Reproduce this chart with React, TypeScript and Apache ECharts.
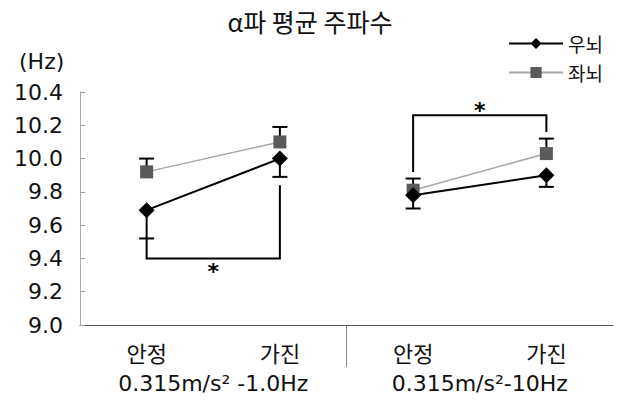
import React, { useEffect, useRef } from "react";
import * as echarts from "echarts";

const categories = ["안정", "가진", "안정", "가진"];
const groupLabels = ["0.315m/s² -1.0Hz", "0.315m/s²-10Hz"];
const rightName = "우뇌";
const leftName = "좌뇌";
const rightValues = [9.69, 10.0, 9.78, 9.9];
const leftValues = [9.92, 10.1, 9.81, 10.03];
const rightErrLow = [9.52, 9.89, 9.7, 9.83];
const leftErrHigh = [10.0, 10.19, 9.88, 10.12];
const yMin = 9.0;
const yMax = 10.4;
const yStep = 0.2;
// [catStart, startValue, barValue, catEnd, endValue, starValue]
const brackets = [
  [0, 9.52, 9.4, 1, 9.84, 9.35],
  [2, 9.92, 10.26, 3, 10.16, 10.32],
];

const LATIN = "DejaVu Sans";
const KR = "Noto Sans CJK KR";

export default function App() {
  const ref = useRef<HTMLDivElement>(null);
  useEffect(() => {
    if (!ref.current) return;
    const chart = echarts.init(ref.current, null, { renderer: "svg" });
    const gridLeft = 80;
    const gridRight = 7;
    const gridTop = 92;
    const gridBottom = 88;
    const W = 620;
    const H = 413;
    const midX = gridLeft + (W - gridLeft - gridRight) / 2;
    const axisY = H - gridBottom;

    const seg = (arr: number[], g: number) =>
      arr.map((v, i) => (Math.floor(i / 2) === g ? v : "-"));

    const errRender = (params: any, api: any) => {
      const x = api.value(0);
      const v = api.value(1);
      const e = api.value(2);
      const p = api.coord([x, v]);
      const q = api.coord([x, e]);
      return {
        type: "group",
        children: [
          { type: "line", shape: { x1: p[0], y1: p[1], x2: q[0], y2: q[1] }, style: { stroke: "#000", lineWidth: 2 } },
          { type: "line", shape: { x1: q[0] - 7.5, y1: q[1], x2: q[0] + 7.5, y2: q[1] }, style: { stroke: "#000", lineWidth: 2 } },
        ],
      };
    };

    const bracketRender = (params: any, api: any) => {
      const c1 = api.value(0);
      const ys = api.value(1);
      const yb = api.value(2);
      const c2 = api.value(3);
      const ye = api.value(4);
      const st = api.value(5);
      const a = api.coord([c1, ys]);
      const b = api.coord([c1, yb]);
      const c = api.coord([c2, yb]);
      const d = api.coord([c2, ye]);
      const s = api.coord([c1, st]);
      return {
        type: "group",
        children: [
          {
            type: "polyline",
            shape: { points: [a, b, c, d] },
            style: { stroke: "#000", lineWidth: 2, fill: "none" },
          },
          {
            type: "text",
            x: (b[0] + c[0]) / 2,
            y: s[1] + 5,
            style: {
              text: "*",
              fontSize: 22,
              fontFamily: LATIN,
              fontWeight: "bold",
              fill: "#000",
              align: "center",
              verticalAlign: "middle",
            },
          },
        ],
      };
    };

    const lineSeries = (name: string, values: number[], g: number, isRight: boolean) => ({
      name,
      type: "line",
      data: seg(values, g),
      symbol: isRight ? "diamond" : "rect",
      symbolSize: isRight ? 16 : 13,
      lineStyle: { color: isRight ? "#000" : "#a8a8a8", width: isRight ? 2 : 1.5 },
      itemStyle: { color: isRight ? "#000" : "#5a5a5a" },
      z: isRight ? 4 : 3,
    });

    chart.setOption({
      animation: false,
      title: {
        text: "α파 평균 주파수",
        left: "center",
        top: 3,
        textStyle: { fontFamily: KR, fontSize: 25, fontWeight: "normal", color: "#111" },
      },
      legend: {
        data: [rightName, leftName],
        orient: "vertical",
        right: 12,
        top: 29,
        itemWidth: 54,
        itemHeight: 14,
        itemGap: 10,
        textStyle: { fontFamily: KR, fontSize: 19, color: "#111" },
      },
      grid: { left: gridLeft, right: gridRight, top: gridTop, bottom: gridBottom },
      xAxis: [
        {
          type: "category",
          data: categories,
          boundaryGap: true,
          axisLine: { lineStyle: { color: "#555", width: 1 } },
          axisTick: { inside: true, length: 7, lineStyle: { color: "#999", type: "dotted" } },
          axisLabel: { fontFamily: KR, fontSize: 22, color: "#111", margin: 16 },
        },
        {
          type: "category",
          data: groupLabels,
          position: "bottom",
          boundaryGap: true,
          axisLine: { show: false },
          axisTick: { show: false },
          axisLabel: { fontFamily: LATIN, fontSize: 22, color: "#111", margin: 47 },
        },
      ],
      yAxis: {
        type: "value",
        min: yMin,
        max: yMax,
        interval: yStep,
        axisLine: { show: true, lineStyle: { color: "#aaa", width: 1 } },
        axisTick: { show: true, inside: true, length: 5, lineStyle: { color: "#999" } },
        splitLine: { show: false },
        axisLabel: {
          fontFamily: LATIN,
          fontSize: 22,
          color: "#111",
          margin: 17,
          formatter: (v: number) => v.toFixed(1),
        },
      },
      graphic: [
        {
          type: "text",
          left: 19,
          top: 50,
          style: { text: "(Hz)", fontFamily: LATIN, fontSize: 22, fill: "#111" },
        },
        {
          type: "line",
          shape: { x1: midX, y1: axisY, x2: midX, y2: axisY + 42 },
          style: { stroke: "#888", lineWidth: 1 },
        },
      ],
      series: [
        {
          name: "err-right",
          type: "custom",
          renderItem: errRender,
          data: rightValues.map((v, i) => [i, v, rightErrLow[i]]),
          z: 2,
        },
        {
          name: "err-left",
          type: "custom",
          renderItem: errRender,
          data: leftValues.map((v, i) => [i, v, leftErrHigh[i]]),
          z: 2,
        },
        lineSeries(leftName, leftValues, 0, false),
        lineSeries(leftName, leftValues, 1, false),
        lineSeries(rightName, rightValues, 0, true),
        lineSeries(rightName, rightValues, 1, true),
        {
          name: "brackets",
          type: "custom",
          renderItem: bracketRender,
          data: brackets,
          z: 1,
        },
      ],
    });
    return () => chart.dispose();
  }, []);
  return (
    <div
      ref={ref}
      style={{ position: "absolute", left: 0, top: 0, width: 620, height: 413 }}
    />
  );
}
